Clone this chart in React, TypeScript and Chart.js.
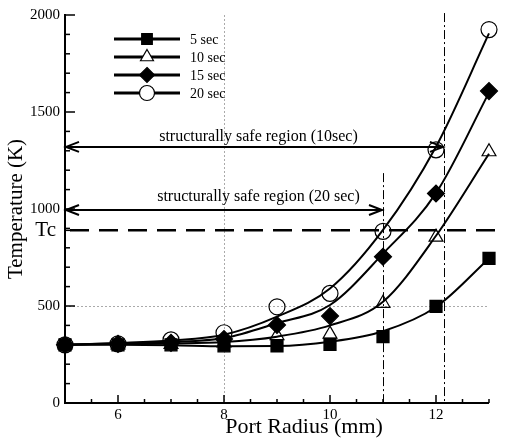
import React, { useEffect, useRef } from 'react';
import { Chart, registerables } from 'chart.js';

Chart.register(...registerables);

// Port radius (mm)
const RADIUS = [5, 6, 7, 8, 9, 10, 11, 12, 13];
// Measured temperatures (K)
const T5 = [300, 300, 300, 295, 294, 302, 342, 498, 745];
const T10 = [300, 300, 302, 310, 347, 355, 514, 855, 1295];
const T15 = [300, 305, 310, 330, 402, 448, 754, 1080, 1608];
const T20 = [300, 305, 325, 362, 496, 565, 885, 1305, 1925];
// Fitted curves
const FIT5 = [300, 300, 298, 293, 294, 316, 370, 495, 745];
const FIT10 = [300, 304, 307, 314, 342, 400, 522, 862, 1285];
const FIT15 = [300, 307, 314, 335, 412, 505, 770, 1082, 1600];
const FIT20 = [300, 309, 322, 352, 445, 590, 892, 1321, 1905];

const SERIES_LABELS = ['5 sec', '10 sec', '15 sec', '20 sec'];
const X_TICKS = [6, 8, 10, 12];
const Y_TICKS = [0, 500, 1000, 1500, 2000];
const GRID_X = [8];
const GRID_Y = [500];
const X_TITLE = 'Port Radius (mm)';
const Y_TITLE = 'Temperature (K)';

const TC = 890;
const SAFE10_X = 12.15;
const SAFE10_Y = 1320;
const SAFE10_TEXT_Y = 1371;
const SAFE20_X = 11;
const SAFE20_Y = 995;
const SAFE20_TEXT_Y = 1063;
const SAFE_TEXT_X = 8.65;
const VLINE20_TOP = 1185;
const VLINE10_TOP = 2010;

const FONT = '"Liberation Serif", "Times New Roman", serif';

const STYLES = [
  { pointStyle: 'rect', fill: '#000', radius: 8.5 },
  { pointStyle: 'triangle', fill: 'rgba(0,0,0,0)', radius: 8 },
  { pointStyle: 'rectRot', fill: '#000', radius: 8.5 },
  { pointStyle: 'circle', fill: 'rgba(0,0,0,0)', radius: 8 },
];

function drawMarker(ctx: CanvasRenderingContext2D, style: string, x: number, y: number, r: number, filled: boolean) {
  ctx.beginPath();
  if (style === 'rect') {
    const s = r * Math.SQRT1_2;
    ctx.rect(x - s, y - s, 2 * s, 2 * s);
  } else if (style === 'rectRot') {
    ctx.moveTo(x, y - r);
    ctx.lineTo(x + r, y);
    ctx.lineTo(x, y + r);
    ctx.lineTo(x - r, y);
    ctx.closePath();
  } else if (style === 'triangle') {
    const a = (Math.PI * 2) / 3;
    ctx.moveTo(x, y - r);
    ctx.lineTo(x + Math.sin(a) * r, y - Math.cos(a) * r);
    ctx.lineTo(x - Math.sin(a) * r, y - Math.cos(a) * r);
    ctx.closePath();
  } else {
    ctx.arc(x, y, r, 0, Math.PI * 2);
  }
  ctx.fillStyle = filled ? '#000' : '#fff';
  ctx.fill();
  ctx.lineWidth = 1.2;
  ctx.strokeStyle = '#000';
  ctx.stroke();
}

function seg(ctx: CanvasRenderingContext2D, x0: number, y0: number, x1: number, y1: number) {
  ctx.beginPath();
  ctx.moveTo(x0, y0);
  ctx.lineTo(x1, y1);
  ctx.stroke();
}

function arrowHead(ctx: CanvasRenderingContext2D, x: number, y: number, dir: number) {
  ctx.beginPath();
  ctx.moveTo(x - dir * 13, y - 5);
  ctx.lineTo(x, y);
  ctx.lineTo(x - dir * 13, y + 5);
  ctx.stroke();
}

const decor = {
  id: 'decor',
  beforeDatasetsDraw(chart: any) {
    const { ctx, chartArea: ca, scales } = chart;
    const x = scales.x;
    const y = scales.y;
    ctx.save();
    // faint dotted grid
    ctx.strokeStyle = '#aaaaaa';
    ctx.lineWidth = 1;
    ctx.setLineDash([2, 2]);
    GRID_Y.forEach((v) => {
      const py = Math.round(y.getPixelForValue(v)) + 0.5;
      seg(ctx, ca.left, py, ca.right, py);
    });
    GRID_X.forEach((v) => {
      const px = Math.round(x.getPixelForValue(v)) + 0.5;
      seg(ctx, px, ca.top, px, ca.bottom);
    });
    // vertical dash-dot lines
    ctx.strokeStyle = '#000';
    ctx.lineWidth = 1;
    ctx.setLineDash([9, 3, 2, 3]);
    let px = Math.round(x.getPixelForValue(SAFE20_X)) + 0.5;
    seg(ctx, px, y.getPixelForValue(VLINE20_TOP), px, ca.bottom);
    px = Math.round(x.getPixelForValue(SAFE10_X)) + 0.5;
    seg(ctx, px, y.getPixelForValue(VLINE10_TOP), px, ca.bottom);
    // Tc dashed line
    ctx.setLineDash([19, 10]);
    ctx.lineWidth = 2.5;
    const ty = y.getPixelForValue(TC);
    seg(ctx, ca.left + 5, ty, chart.width, ty);
    // arrows
    ctx.setLineDash([]);
    ctx.lineWidth = 2;
    const a1 = y.getPixelForValue(SAFE10_Y);
    const a1x = x.getPixelForValue(SAFE10_X) - 1;
    seg(ctx, ca.left + 1, a1, a1x, a1);
    arrowHead(ctx, ca.left + 1, a1, -1);
    arrowHead(ctx, a1x, a1, 1);
    const a2 = y.getPixelForValue(SAFE20_Y);
    const a2x = x.getPixelForValue(SAFE20_X) - 1;
    seg(ctx, ca.left + 1, a2, a2x, a2);
    arrowHead(ctx, ca.left + 1, a2, -1);
    arrowHead(ctx, a2x, a2, 1);
    // region labels
    ctx.fillStyle = '#000';
    ctx.font = `16px ${FONT}`;
    ctx.textAlign = 'center';
    ctx.textBaseline = 'middle';
    ctx.fillText('structurally safe region (10sec)', x.getPixelForValue(SAFE_TEXT_X), y.getPixelForValue(SAFE10_TEXT_Y));
    ctx.fillText('structurally safe region (20 sec)', x.getPixelForValue(SAFE_TEXT_X), y.getPixelForValue(SAFE20_TEXT_Y));
    ctx.restore();
  },
  afterDraw(chart: any) {
    const { ctx, chartArea: ca, scales } = chart;
    const x = scales.x;
    const y = scales.y;
    ctx.save();
    ctx.strokeStyle = '#000';
    ctx.lineWidth = 2;
    // axes
    seg(ctx, ca.left, ca.top - 1, ca.left, ca.bottom + 1);
    seg(ctx, ca.left - 1, ca.bottom, ca.right, ca.bottom);
    // y ticks (inward)
    ctx.lineWidth = 1.5;
    for (let v = 0; v <= 2000; v += 100) {
      const py = y.getPixelForValue(v);
      const len = v % 500 === 0 ? 10 : 5;
      seg(ctx, ca.left, py, ca.left + len, py);
    }
    const tpy = y.getPixelForValue(TC);
    seg(ctx, ca.left, tpy, ca.left + 6, tpy);
    // x ticks (inward)
    for (let v = 5; v <= 13.001; v += 0.5) {
      const px = x.getPixelForValue(v);
      const len = X_TICKS.includes(v) ? 8 : 4;
      seg(ctx, px, ca.bottom, px, ca.bottom - len);
    }
    // Tc label
    ctx.fillStyle = '#000';
    ctx.font = `21px ${FONT}`;
    ctx.textAlign = 'right';
    ctx.textBaseline = 'middle';
    ctx.fillText('Tc', 56, tpy);
    // x-axis title
    ctx.font = `22px ${FONT}`;
    ctx.textAlign = 'center';
    ctx.textBaseline = 'alphabetic';
    ctx.fillText(X_TITLE, 304, 433);
    // legend
    const rows = [39, 57, 75, 93];
    ctx.font = `14px ${FONT}`;
    ctx.textAlign = 'left';
    ctx.textBaseline = 'middle';
    SERIES_LABELS.forEach((lab, i) => {
      const ly = rows[i];
      ctx.lineWidth = 3;
      ctx.strokeStyle = '#000';
      seg(ctx, 114, ly, 180, ly);
      drawMarker(ctx, STYLES[i].pointStyle, 147, ly, 7.5, STYLES[i].fill === '#000');
      ctx.fillStyle = '#000';
      ctx.fillText(lab, 190, ly + 1);
    });
    ctx.restore();
  },
};

export default function App() {
  const ref = useRef<HTMLCanvasElement>(null);
  useEffect(() => {
    const canvas = ref.current!;
    const fits = [FIT5, FIT10, FIT15, FIT20];
    const meas = [T5, T10, T15, T20];
    const curveSets = fits.map((arr, i) => ({
      label: SERIES_LABELS[i] + ' fit',
      data: RADIUS.map((r, k) => ({ x: r, y: arr[k] })),
      showLine: true,
      borderColor: '#000',
      borderWidth: 2,
      pointRadius: 0,
      cubicInterpolationMode: 'monotone' as const,
      clip: false,
      order: 2,
    }));
    const markerSets = meas.map((arr, i) => ({
      label: SERIES_LABELS[i],
      data: RADIUS.map((r, k) => ({ x: r, y: arr[k] })),
      showLine: false,
      pointStyle: STYLES[i].pointStyle as any,
      pointRadius: STYLES[i].radius,
      pointBackgroundColor: STYLES[i].fill,
      pointBorderColor: '#000',
      pointBorderWidth: 1.2,
      clip: false,
      order: 1,
    }));
    const chart = new Chart(canvas, {
      type: 'scatter',
      data: { datasets: [...curveSets, ...markerSets] as any },
      options: {
        animation: false,
        responsive: false,
        devicePixelRatio: 1,
        layout: { padding: { top: 15, right: 16, left: 0, bottom: 0 } },
        plugins: { legend: { display: false }, tooltip: { enabled: false } },
        scales: {
          x: {
            type: 'linear',
            min: 5,
            max: 13,
            grid: { display: false, drawTicks: false },
            border: { display: false },
            afterBuildTicks: (s: any) => { s.ticks = X_TICKS.map((v) => ({ value: v })); },
            afterFit: (s: any) => { s.height = 35; },
            ticks: { color: '#000', font: { family: FONT, size: 15 }, padding: 3, maxRotation: 0, callback: (v: any) => String(v) },
            title: { display: false },
          },
          y: {
            type: 'linear',
            min: 0,
            max: 2000,
            grid: { display: false, drawTicks: false },
            border: { display: false },
            afterBuildTicks: (s: any) => { s.ticks = Y_TICKS.map((v) => ({ value: v })); },
            afterFit: (s: any) => { s.width = 65; },
            ticks: { color: '#000', font: { family: FONT, size: 15 }, padding: 5, callback: (v: any) => String(v) },
            title: { display: true, text: Y_TITLE, color: '#000', font: { family: FONT, size: 21 }, padding: { top: 4, bottom: 0 } },
          },
        },
      },
      plugins: [decor],
    });
    return () => chart.destroy();
  }, []);
  return (
    <div style={{ position: 'fixed', left: 0, top: 0, width: 505, height: 438, background: '#fff' }}>
      <canvas ref={ref} width={505} height={438} style={{ width: 505, height: 438 }} />
    </div>
  );
}
